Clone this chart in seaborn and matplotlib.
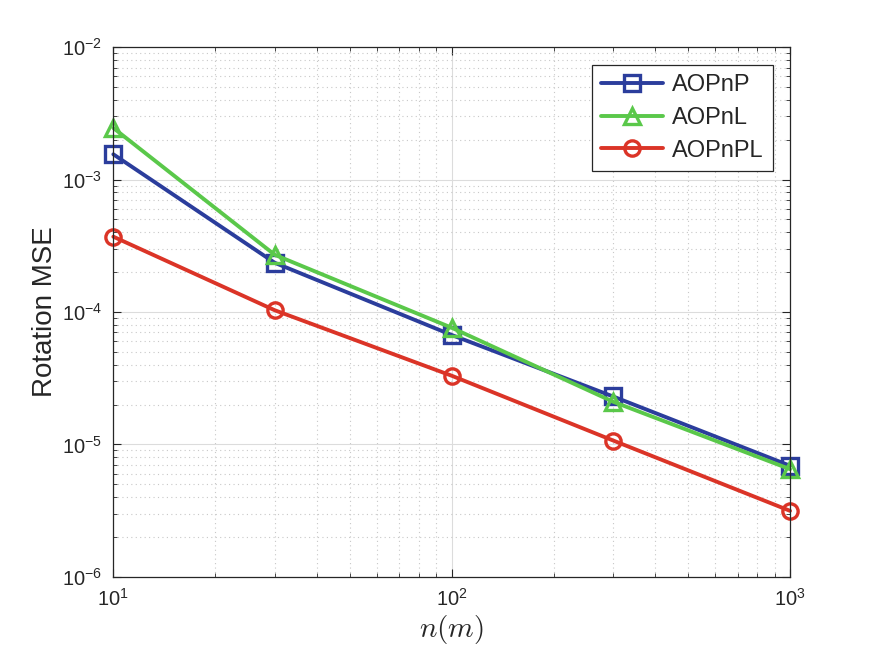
import numpy as np
import pandas as pd
import matplotlib
matplotlib.use('Agg')
import matplotlib.pyplot as plt
import seaborn as sns
from matplotlib.ticker import LogLocator, FixedLocator

# Data
n_points = [10, 30, 100, 300, 1000]
mse_aopnp = [1.55e-3, 2.35e-4, 6.7e-5, 2.3e-5, 6.9e-6]
mse_aopnl = [2.45e-3, 2.7e-4, 7.6e-5, 2.1e-5, 6.5e-6]
mse_aopnpl = [3.7e-4, 1.03e-4, 3.3e-5, 1.07e-5, 3.15e-6]
methods = ['AOPnP', 'AOPnL', 'AOPnPL']

df = pd.DataFrame({
    'n': n_points * 3,
    'mse': mse_aopnp + mse_aopnl + mse_aopnpl,
    'method': [m for m in methods for _ in n_points],
})

sns.set_style('ticks')
plt.rcParams['font.family'] = ['Liberation Sans', 'DejaVu Sans']
plt.rcParams['mathtext.fontset'] = 'cm'
plt.rcParams['mathtext.default'] = 'regular'

palette = {'AOPnP': '#2b3d9c', 'AOPnL': '#5ac84a', 'AOPnPL': '#db3427'}
markers = {'AOPnP': 's', 'AOPnL': '^', 'AOPnPL': 'o'}

fig = plt.figure(figsize=(8.72, 6.54), dpi=100)
ax = fig.add_axes([0.13, 0.118, 0.776, 0.81])

sns.lineplot(data=df, x='n', y='mse', hue='method', style='method',
             markers=markers, dashes=False, palette=palette, ax=ax,
             linewidth=2.8, markersize=11, markeredgewidth=2.4,
             markerfacecolor='none', clip_on=False)

ax.set_xscale('log')
ax.set_yscale('log')
ax.set_xlim(10, 1000)
ax.set_ylim(1e-6, 1e-2)

ax.xaxis.set_major_locator(FixedLocator([10, 100, 1000]))
ax.yaxis.set_major_locator(FixedLocator([1e-6, 1e-5, 1e-4, 1e-3, 1e-2]))
ax.xaxis.set_minor_locator(LogLocator(base=10, subs=np.arange(2, 10)))
ax.yaxis.set_minor_locator(LogLocator(base=10, subs=np.arange(2, 10)))
ax.set_xticklabels([r'$10^{1}$', r'$10^{2}$', r'$10^{3}$'])
ax.set_yticklabels([r'$10^{-6}$', r'$10^{-5}$', r'$10^{-4}$', r'$10^{-3}$', r'$10^{-2}$'])

ax.grid(True, which='major', color='#dcdcdc', linewidth=0.8, linestyle='-')
ax.grid(True, which='minor', color='#c8c8c8', linewidth=0.8, linestyle=(0, (1, 3)))
ax.set_axisbelow(True)

ax.tick_params(which='both', direction='in', top=True, right=True,
               labelsize=14.5, color='#262626')
ax.tick_params(which='major', length=6, width=0.8, pad=8)
ax.tick_params(which='minor', length=3, width=0.6)
for s in ax.spines.values():
    s.set_color('#262626')
    s.set_linewidth(0.9)

ax.set_xlabel(r'$\mathit{n}\mathrm{(}\mathit{m}\mathrm{)}$', fontsize=21, labelpad=2)
ax.set_ylabel('Rotation MSE', fontsize=20, labelpad=3)

leg = ax.legend(loc='upper right', bbox_to_anchor=(0.8865, 0.9006),
                bbox_transform=fig.transFigure, fontsize=17, frameon=True,
                fancybox=False, edgecolor='#262626', framealpha=1,
                handlelength=2.6, borderaxespad=0, labelspacing=0.45,
                handletextpad=0.4)
leg.get_frame().set_linewidth(0.9)

# marker edges in the line colour, hollow faces
for line in list(ax.lines) + list(leg.get_lines()):
    line.set_markeredgecolor(line.get_color())
    line.set_markerfacecolor('none')
    line.set_markeredgewidth(2.4)
    line.set_markersize(11)

fig.savefig('out.png', dpi=100)
